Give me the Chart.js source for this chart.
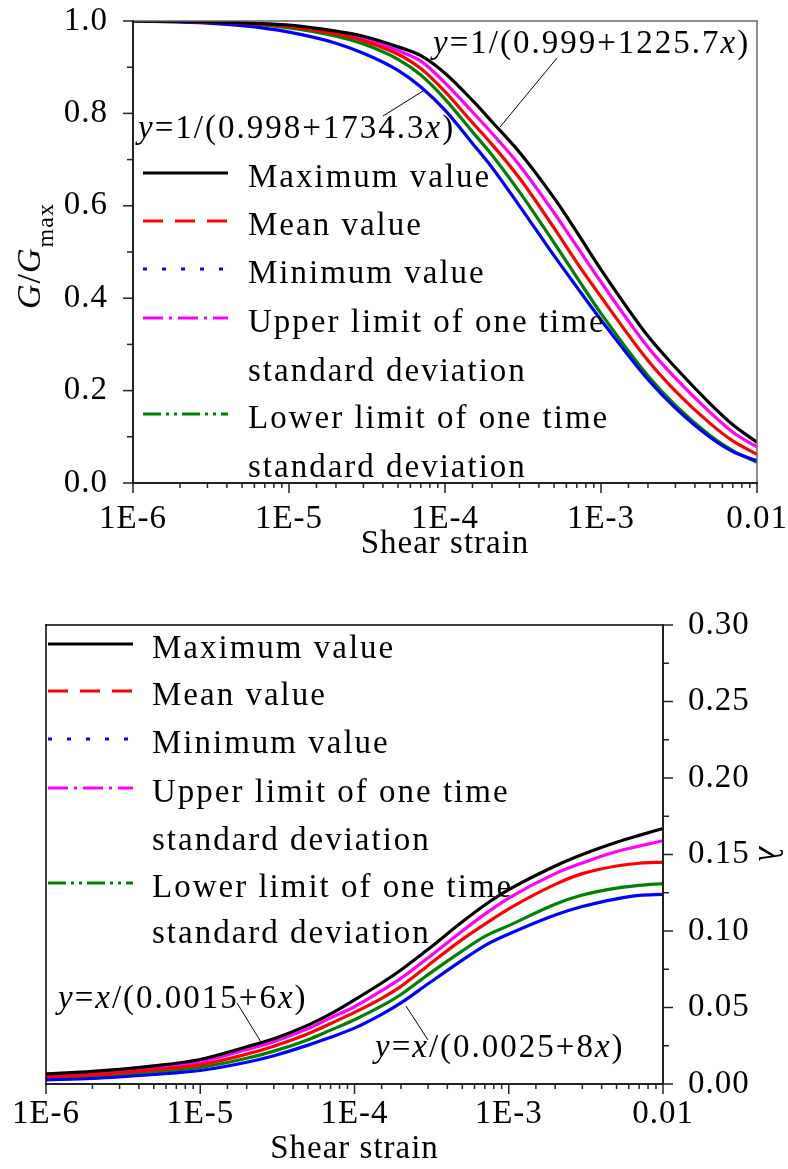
<!DOCTYPE html>
<html>
<head>
<meta charset="utf-8">
<script src="https://cdn.jsdelivr.net/npm/chart.js@4.4.1/dist/chart.umd.min.js"></script>
<style>
    body { margin: 0; background: #ffffff; }
    #wrap { position: relative; width: 788px; height: 1169px; }
    .box { position: absolute; left: 0; width: 788px; }
</style>
</head>
<body>
<div id="wrap">
    <div class="box" style="top:0;height:585px"><canvas id="gChart" width="788" height="585"></canvas></div>
    <div class="box" style="top:585px;height:584px"><canvas id="dChart" width="788" height="584"></canvas></div>
</div>
<script>
var SERIF = "'Liberation Serif', 'Times New Roman', serif";

// shear strain sample points shared by both panels
var STRAIN = [1e-6, 2e-6, 5e-6, 1e-5, 2e-5, 3e-5, 5e-5, 7e-5, 1e-4, 1.5e-4, 2e-4, 3e-4, 5e-4, 7e-4, 1e-3, 2e-3, 3e-3, 5e-3, 7e-3, 1e-2];

// top panel: G/Gmax
var G_MAX   = [1.000, 0.999, 0.996, 0.991, 0.978, 0.967, 0.944, 0.925, 0.887, 0.828, 0.782, 0.716, 0.617, 0.543, 0.462, 0.318, 0.250, 0.172, 0.126, 0.088];
var G_MEAN  = [1.000, 0.999, 0.995, 0.988, 0.972, 0.957, 0.928, 0.897, 0.847, 0.780, 0.733, 0.660, 0.552, 0.477, 0.403, 0.265, 0.199, 0.129, 0.091, 0.062];
var G_MIN   = [1.000, 0.998, 0.990, 0.976, 0.952, 0.930, 0.893, 0.857, 0.807, 0.735, 0.683, 0.600, 0.492, 0.424, 0.353, 0.224, 0.162, 0.099, 0.068, 0.048];
var G_UPPER = [1.000, 0.999, 0.996, 0.990, 0.975, 0.962, 0.936, 0.913, 0.866, 0.803, 0.757, 0.688, 0.585, 0.512, 0.435, 0.294, 0.227, 0.153, 0.110, 0.078];
var G_LOWER = [1.000, 0.998, 0.994, 0.985, 0.967, 0.950, 0.917, 0.883, 0.831, 0.760, 0.710, 0.630, 0.520, 0.445, 0.367, 0.232, 0.168, 0.103, 0.070, 0.045];

// bottom panel: damping ratio
var D_MAX   = [0.0066, 0.0082, 0.0118, 0.0160, 0.0243, 0.0296, 0.0385, 0.0458, 0.0550, 0.0660, 0.0745, 0.0880, 0.1060, 0.1170, 0.1270, 0.1425, 0.1500, 0.1580, 0.1625, 0.1670];
var D_MEAN  = [0.0048, 0.0060, 0.0092, 0.0125, 0.0195, 0.0247, 0.0328, 0.0395, 0.0468, 0.0560, 0.0638, 0.0775, 0.0945, 0.1045, 0.1145, 0.1305, 0.1375, 0.1425, 0.1443, 0.1450];
var D_MIN   = [0.0027, 0.0036, 0.0062, 0.0088, 0.0142, 0.0185, 0.0254, 0.0305, 0.0365, 0.0455, 0.0530, 0.0655, 0.0810, 0.0905, 0.0980, 0.1105, 0.1160, 0.1210, 0.1233, 0.1240];
var D_UPPER = [0.0056, 0.0072, 0.0106, 0.0145, 0.0225, 0.0277, 0.0362, 0.0432, 0.0505, 0.0610, 0.0690, 0.0825, 0.1000, 0.1110, 0.1215, 0.1375, 0.1445, 0.1520, 0.1555, 0.1590];
var D_LOWER = [0.0040, 0.0050, 0.0077, 0.0108, 0.0168, 0.0215, 0.0290, 0.0352, 0.0420, 0.0510, 0.0585, 0.0715, 0.0870, 0.0965, 0.1035, 0.1175, 0.1235, 0.1280, 0.1298, 0.1310];

var SERIES_NAMES = [
    'Maximum value',
    'Mean value',
    'Minimum value',
    'Upper limit of one time\nstandard deviation',
    'Lower limit of one time\nstandard deviation'
];
var SERIES_COLORS = ['#000000', '#ff0000', '#0000ff', '#ff00ff', '#008000'];
var LEGEND_DASH = [[], [20, 12], [4, 15], [20, 6, 3, 6], [18, 5, 3, 5, 3, 5]];
var X_TICK_LABELS = ['1E-6', '1E-5', '1E-4', '1E-3', '0.01'];

function isDecade(v) {
    var e = Math.log10(v);
    return Math.abs(e - Math.round(e)) < 1e-9;
}

function makeDatasets(xs, seriesList) {
    return seriesList.map(function (values, i) {
        return {
            label: SERIES_NAMES[i],
            data: xs.map(function (x, j) {
                return { x: x, y: values[j] };
            }),
            borderColor: SERIES_COLORS[i],
            borderWidth: 3.2,
            pointRadius: 0,
            cubicInterpolationMode: 'monotone',
            fill: false
        };
    });
}

function drawRich(ctx, parts, x, y, size) {
    parts.forEach(function (p) {
        ctx.font = (p[1] ? 'italic ' : '') + size + 'px ' + SERIF;
        ctx.fillText(p[0], x, y);
        x += ctx.measureText(p[0]).width;
    });
    return x;
}

function strokeLine(ctx, x1, y1, x2, y2) {
    ctx.beginPath();
    ctx.moveTo(x1, y1);
    ctx.lineTo(x2, y2);
    ctx.stroke();
}

function decorPlugin(cfg) {
    return {
        id: 'decor',
        beforeDraw: function (chart) {
            chart.ctx.letterSpacing = '1px';
        },
        afterDraw: function (chart) {
            var ctx = chart.ctx;
            var a = chart.chartArea;
            var xs = chart.scales.x;
            var ys = chart.scales.y;
            ctx.save();
            ctx.letterSpacing = '2px';
            ctx.lineCap = 'square';

            // frame
            cfg.frame.forEach(function (f) {
                ctx.strokeStyle = f[1];
                ctx.lineWidth = f[2];
                if (f[0] === 'top') strokeLine(ctx, a.left, a.top, a.right, a.top);
                if (f[0] === 'bottom') strokeLine(ctx, a.left, a.bottom, a.right, a.bottom);
                if (f[0] === 'left') strokeLine(ctx, a.left, a.top, a.left, a.bottom);
                if (f[0] === 'right') strokeLine(ctx, a.right, a.top, a.right, a.bottom);
            });

            // tick marks, taken from the scales
            ctx.lineCap = 'butt';
            ctx.strokeStyle = '#222222';
            ctx.lineWidth = 1.5;
            xs.ticks.forEach(function (t) {
                var px = xs.getPixelForValue(t.value);
                var len = isDecade(t.value) ? 10 : 5;
                strokeLine(ctx, px, a.bottom, px, a.bottom + len);
            });
            ys.ticks.forEach(function (t) {
                var py = ys.getPixelForValue(t.value);
                var len = cfg.isMajorY(t.value) ? 10 : 6;
                if (cfg.yRight) {
                    strokeLine(ctx, a.right, py, a.right + len, py);
                } else {
                    strokeLine(ctx, a.left - len, py, a.left, py);
                }
            });

            // legend
            ctx.fillStyle = '#000000';
            ctx.textBaseline = 'alphabetic';
            ctx.textAlign = 'left';
            var row = 0;
            chart.data.datasets.forEach(function (ds, i) {
                var lines = ds.label.split('\n');
                var base = cfg.legend.rows[row];
                ctx.strokeStyle = ds.borderColor;
                ctx.lineWidth = 3;
                ctx.setLineDash(LEGEND_DASH[i]);
                strokeLine(ctx, cfg.legend.lineX[0], base - 14, cfg.legend.lineX[1], base - 14);
                ctx.setLineDash([]);
                ctx.font = '33px ' + SERIF;
                lines.forEach(function (txt) {
                    ctx.fillText(txt, cfg.legend.textX, cfg.legend.rows[row]);
                    row += 1;
                });
            });

            // fitted equations with leader lines
            ctx.strokeStyle = '#000000';
            ctx.lineWidth = 1;
            cfg.notes.forEach(function (n) {
                drawRich(ctx, n.parts, n.x, n.y, 33);
                strokeLine(ctx, n.lead[0], n.lead[1], n.lead[2], n.lead[3]);
            });

            // rotated y title on the upper panel
            if (cfg.yTitle) {
                var t = cfg.yTitle;
                ctx.letterSpacing = '1px';
                ctx.translate(t.x, t.y);
                ctx.rotate(-Math.PI / 2);
                ctx.font = 'italic 34px ' + SERIF;
                var w1 = ctx.measureText('G').width;
                ctx.font = '34px ' + SERIF;
                var w2 = ctx.measureText('/').width;
                ctx.font = '24px ' + SERIF;
                var w3 = ctx.measureText('max').width;
                var start = -(w1 * 2 + w2 + w3) / 2;
                ctx.font = 'italic 34px ' + SERIF;
                ctx.fillText('G', start, 0);
                ctx.font = '34px ' + SERIF;
                ctx.fillText('/', start + w1, 0);
                ctx.font = 'italic 34px ' + SERIF;
                ctx.fillText('G', start + w1 + w2, 0);
                ctx.font = '24px ' + SERIF;
                ctx.fillText('max', start + w1 * 2 + w2, 13);
            }
            ctx.restore();
        }
    };
}

function baseOptions(o) {
    return {
        responsive: false,
        animation: false,
        layout: { padding: o.padding },
        plugins: { legend: { display: false }, tooltip: { enabled: false } },
        scales: {
            x: {
                type: 'logarithmic',
                min: 1e-6,
                max: 1e-2,
                grid: { display: false },
                border: { display: false },
                ticks: {
                    autoSkip: false,
                    maxRotation: 0,
                    minRotation: 0,
                    padding: o.xPad,
                    color: '#000000',
                    font: { family: SERIF, size: 33 },
                    callback: function (value) {
                        if (!isDecade(value)) return '';
                        return X_TICK_LABELS[Math.round(Math.log10(value)) + 6];
                    }
                },
                title: {
                    display: true,
                    text: 'Shear strain',
                    color: '#000000',
                    font: { family: SERIF, size: 33 },
                    padding: { top: 0, bottom: o.xTitlePad }
                },
                afterFit: function (s) {
                    s.height = o.xHeight;
                    s.paddingLeft = 0;
                    s.paddingRight = 0;
                }
            },
            y: o.y
        }
    };
}

// G/Gmax panel
var gOptions = baseOptions({
    padding: { left: 0, top: 21, right: 31, bottom: 0 },
    xPad: 9,
    xTitlePad: 21,
    xHeight: 102,
    y: {
        min: 0,
        max: 1,
        grid: { display: false },
        border: { display: false },
        ticks: {
            stepSize: 0.1,
            autoSkip: false,
            padding: 17,
            color: '#000000',
            font: { family: SERIF, size: 33 },
            callback: function (v) {
                return Math.round(v * 10) % 2 === 0 ? v.toFixed(1) : '';
            }
        },
        afterFit: function (s) {
            s.width = 133;
            s.paddingTop = 0;
            s.paddingBottom = 0;
        }
    }
});

new Chart(document.getElementById('gChart'), {
    type: 'line',
    data: { datasets: makeDatasets(STRAIN, [G_MAX, G_MEAN, G_MIN, G_UPPER, G_LOWER]) },
    options: gOptions,
    plugins: [decorPlugin({
        yRight: false,
        isMajorY: function (v) { return Math.round(v * 10) % 2 === 0; },
        frame: [['top', '#666666', 1.5], ['right', '#666666', 1.5], ['left', '#222222', 2], ['bottom', '#222222', 2]],
        legend: { lineX: [143, 228], textX: 248, rows: [187, 235, 283, 332, 381, 428, 477] },
        notes: [
            { parts: [['y', 1], ['=1/(0.999+1225.7', 0], ['x', 1], [')', 0]], x: 433, y: 53, lead: [557, 58, 500, 127] },
            { parts: [['y', 1], ['=1/(0.998+1734.3', 0], ['x', 1], [')', 0]], x: 138, y: 138, lead: [383, 116, 423, 91] }
        ],
        yTitle: { x: 40, y: 256 }
    })]
});

// damping ratio panel
var dOptions = baseOptions({
    padding: { left: 46, top: 40, right: 0, bottom: 0 },
    xPad: 3,
    xTitlePad: 0,
    xHeight: 85,
    y: {
        position: 'right',
        min: 0,
        max: 0.3,
        grid: { display: false },
        border: { display: false },
        ticks: {
            stepSize: 0.025,
            autoSkip: false,
            padding: 17,
            color: '#000000',
            font: { family: SERIF, size: 33 },
            callback: function (v) {
                return Math.round(v * 40) % 2 === 0 ? v.toFixed(2) : '';
            }
        },
        title: {
            display: true,
            text: 'λ',
            color: '#000000',
            font: { family: SERIF, size: 34, style: 'italic' },
            padding: { top: 0, bottom: 0 }
        },
        afterFit: function (s) {
            s.width = 125;
            s.paddingTop = 0;
            s.paddingBottom = 0;
        }
    }
});

new Chart(document.getElementById('dChart'), {
    type: 'line',
    data: { datasets: makeDatasets(STRAIN, [D_MAX, D_MEAN, D_MIN, D_UPPER, D_LOWER]) },
    options: dOptions,
    plugins: [decorPlugin({
        yRight: true,
        isMajorY: function (v) { return Math.round(v * 40) % 2 === 0; },
        frame: [['top', '#000000', 1.5], ['left', '#000000', 1.5], ['right', '#222222', 2], ['bottom', '#222222', 2]],
        legend: { lineX: [48, 133], textX: 152, rows: [73, 120, 168, 217, 265, 312, 358] },
        notes: [
            { parts: [['y', 1], ['=', 0], ['x', 1], ['/(0.0015+6', 0], ['x', 1], [')', 0]], x: 58, y: 423, lead: [237, 418, 261, 457] },
            { parts: [['y', 1], ['=', 0], ['x', 1], ['/(0.0025+8', 0], ['x', 1], [')', 0]], x: 375, y: 472, lead: [428, 455, 406, 421] }
        ],
        yTitle: null
    })]
});
</script>
</body>
</html>
